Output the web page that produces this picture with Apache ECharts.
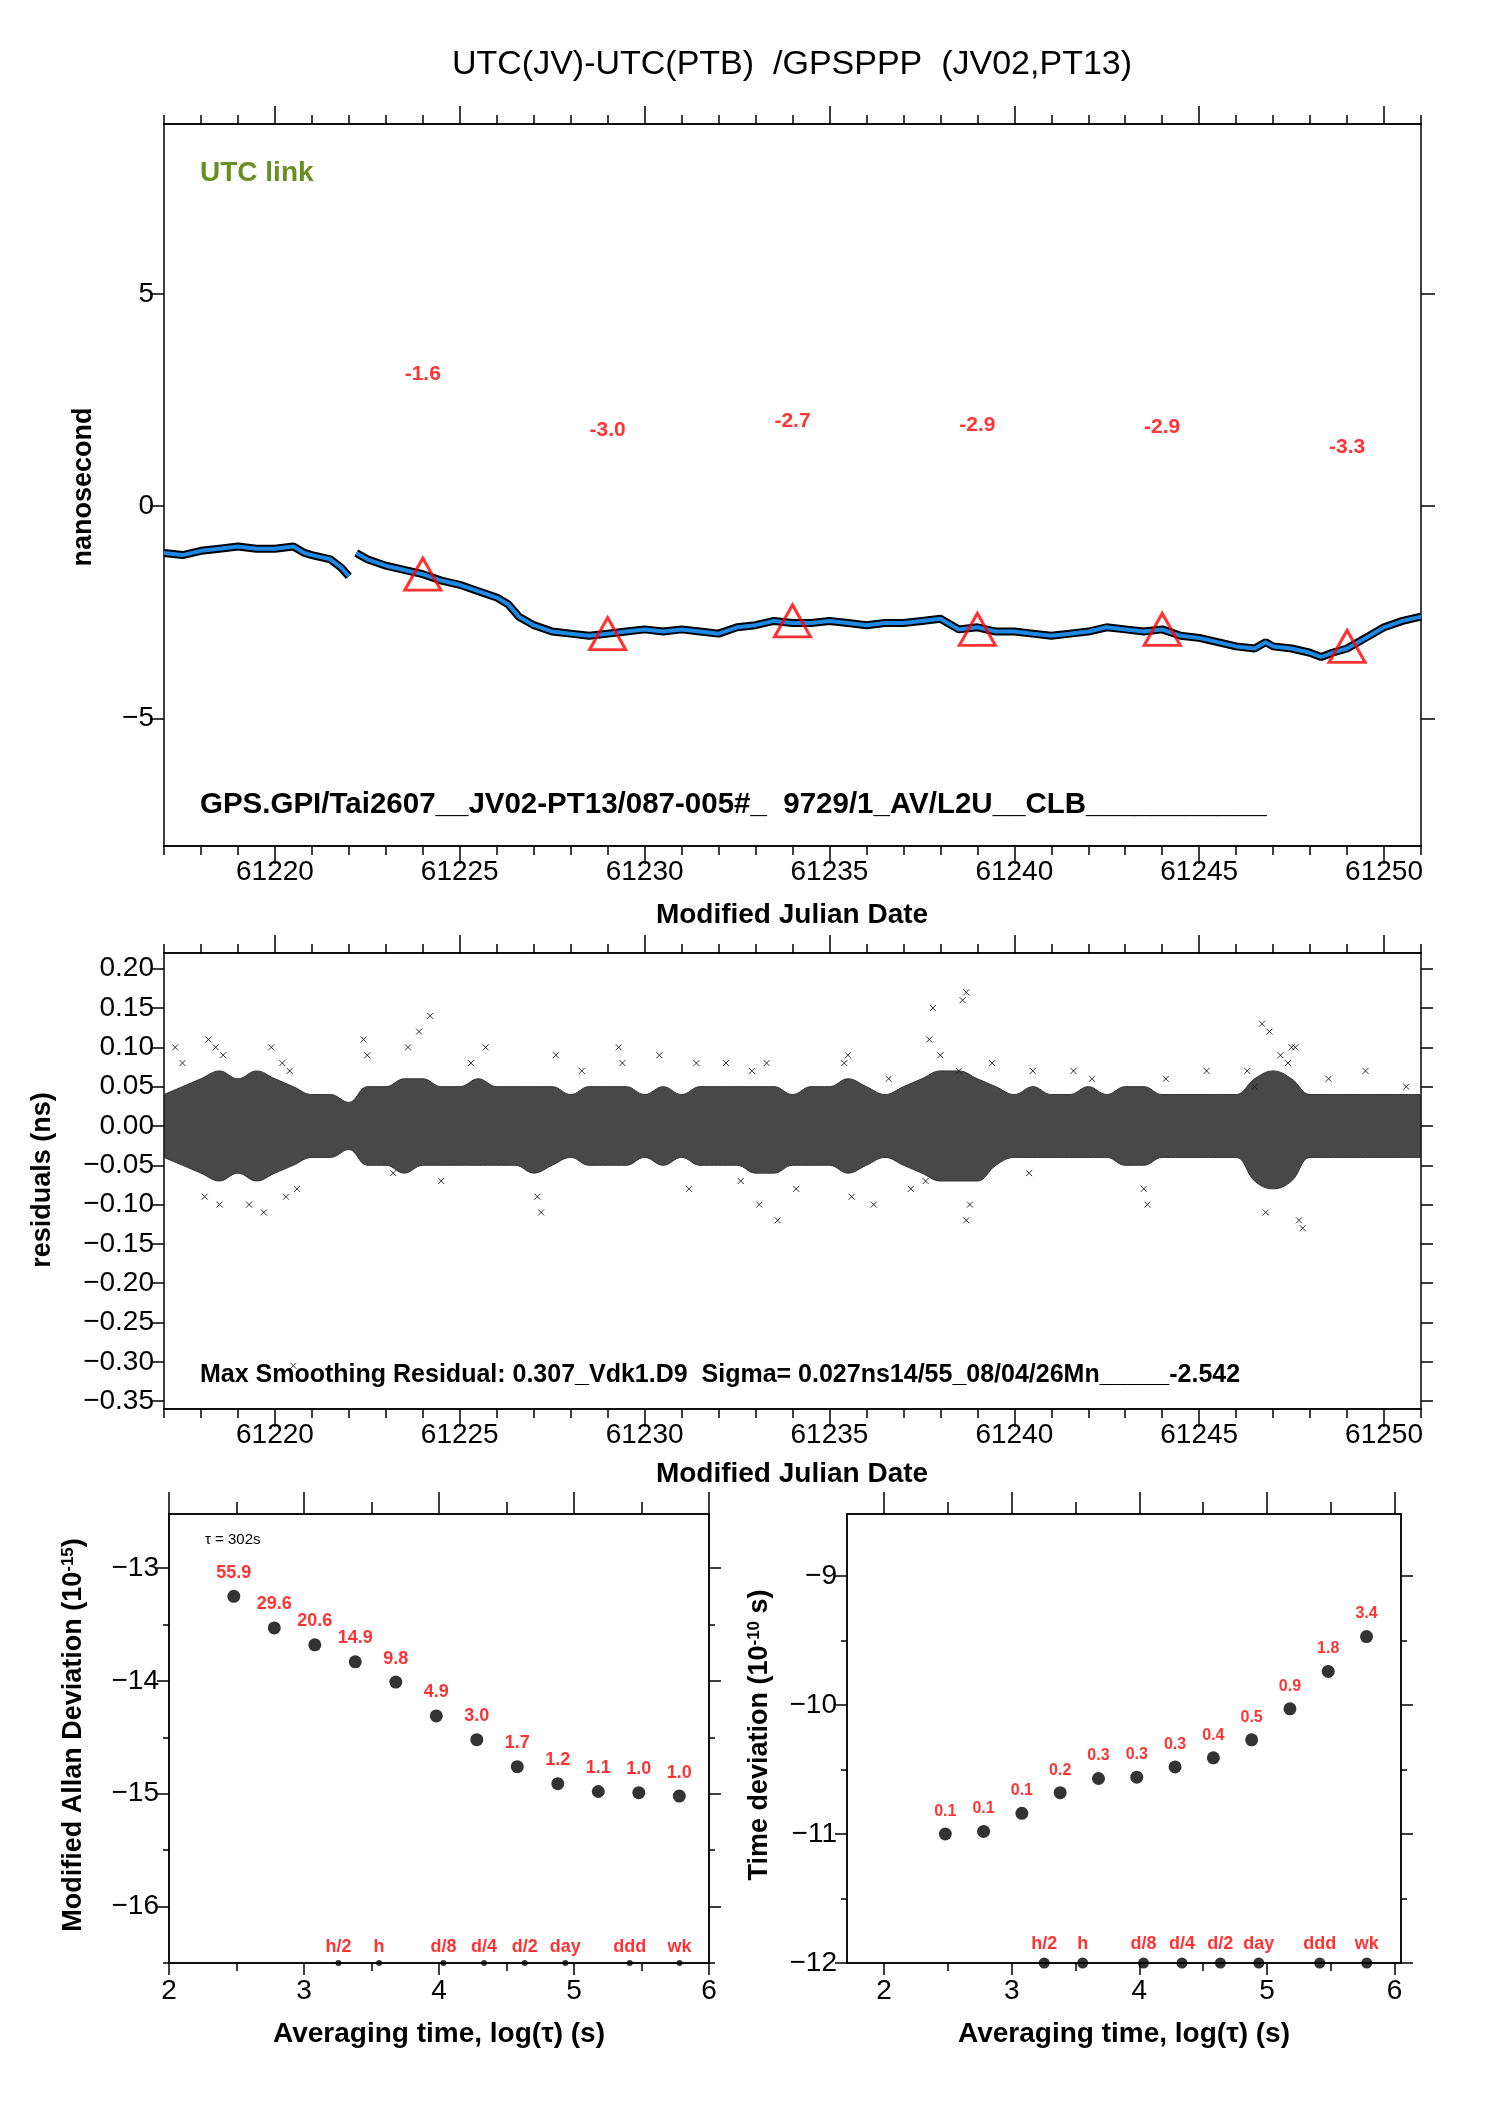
<!DOCTYPE html>
<html><head><meta charset="utf-8">
<script src="https://cdn.jsdelivr.net/npm/echarts@6/dist/echarts.min.js"></script>
<style>html,body{margin:0;padding:0;background:#fff}#c{width:1488px;height:2105px}</style>
</head><body><div id="c"></div>
<script>
// ---- top panel: UTC(JV)-UTC(PTB) ----
const linkMJD = [61217.0,61217.5,61218,61218.5,61219,61219.5,61220,61220.5,61220.8,61221,61221.5,61221.8,61222.0,61222.1,61222.2,61222.5,61223,61223.5,61224,61224.5,61225,61225.5,61226,61226.3,61226.6,61227,61227.5,61228,61228.5,61229,61229.5,61230,61230.5,61231,61231.5,61232,61232.5,61233,61233.5,61234,61234.5,61235,61235.5,61236,61236.5,61237,61237.5,61238,61238.5,61239,61239.5,61240,61240.5,61241,61241.5,61242,61242.5,61243,61243.5,61244,61244.5,61245,61245.5,61246,61246.5,61246.8,61247,61247.5,61248,61248.3,61248.6,61249,61249.5,61250,61250.5,61251];
const linkNs = [-1.1,-1.15,-1.05,-1.0,-0.95,-1.0,-1.0,-0.95,-1.1,-1.15,-1.25,-1.45,-1.65,null,-1.1,-1.25,-1.4,-1.5,-1.6,-1.75,-1.85,-2.0,-2.15,-2.3,-2.6,-2.8,-2.95,-3.0,-3.05,-3.0,-2.95,-2.9,-2.95,-2.9,-2.95,-3.0,-2.85,-2.8,-2.7,-2.75,-2.75,-2.7,-2.75,-2.8,-2.75,-2.75,-2.7,-2.65,-2.9,-2.85,-2.95,-2.95,-3.0,-3.05,-3.0,-2.95,-2.85,-2.9,-2.95,-2.9,-3.05,-3.1,-3.2,-3.3,-3.35,-3.2,-3.3,-3.35,-3.45,-3.55,-3.45,-3.35,-3.1,-2.85,-2.7,-2.6];
const triMJD = [61224,61229,61234,61239,61244,61249];
const triNs = [-1.6,-3.0,-2.7,-2.9,-2.9,-3.3];
const triLabelY = [3.1,1.8,2.0,1.9,1.85,1.4];
const triLabels = ['-1.6','-3.0','-2.7','-2.9','-2.9','-3.3'];
const mjdTicks = [61220,61225,61230,61235,61240,61245,61250];
const nsTicks = [5,0,-5];
// ---- residuals ----
const resMJD = [61217,61217.5,61218,61218.5,61219,61219.5,61220,61220.5,61221,61221.5,61222,61222.5,61223,61223.5,61224,61224.5,61225,61225.5,61226,61226.5,61227,61227.5,61228,61228.5,61229,61229.5,61230,61230.5,61231,61231.5,61232,61232.5,61233,61233.5,61234,61234.5,61235,61235.5,61236,61236.5,61237,61237.5,61238,61238.5,61239,61239.5,61240,61240.5,61241,61241.5,61242,61242.5,61243,61243.5,61244,61244.5,61245,61245.5,61246,61246.5,61247,61247.5,61248,61248.5,61249,61249.5,61250,61250.5,61251];
const resHi = [0.04,0.05,0.06,0.07,0.06,0.07,0.06,0.05,0.04,0.04,0.03,0.05,0.05,0.06,0.06,0.05,0.05,0.06,0.05,0.05,0.05,0.05,0.04,0.05,0.05,0.05,0.04,0.05,0.04,0.05,0.05,0.05,0.05,0.05,0.04,0.05,0.05,0.06,0.05,0.04,0.05,0.06,0.07,0.07,0.06,0.05,0.04,0.05,0.04,0.04,0.05,0.04,0.05,0.05,0.04,0.04,0.04,0.04,0.04,0.06,0.07,0.06,0.04,0.04,0.04,0.04,0.04,0.04,0.04];
const resLo = [-0.04,-0.05,-0.06,-0.07,-0.06,-0.07,-0.06,-0.05,-0.04,-0.04,-0.03,-0.05,-0.05,-0.06,-0.05,-0.05,-0.05,-0.05,-0.05,-0.05,-0.06,-0.05,-0.04,-0.05,-0.05,-0.05,-0.04,-0.05,-0.04,-0.05,-0.05,-0.05,-0.06,-0.06,-0.05,-0.05,-0.05,-0.06,-0.05,-0.04,-0.05,-0.06,-0.07,-0.07,-0.07,-0.05,-0.04,-0.04,-0.04,-0.04,-0.04,-0.04,-0.05,-0.05,-0.04,-0.04,-0.04,-0.04,-0.04,-0.07,-0.08,-0.07,-0.04,-0.04,-0.04,-0.04,-0.04,-0.04,-0.04];
const outlierMJD = [61217.3,61217.5,61218.2,61218.4,61218.6,61219.9,61220.2,61220.4,61218.1,61218.5,61219.3,61220.3,61220.6,61219.7,61222.4,61222.5,61223.6,61224.2,61223.9,61225.7,61225.3,61224.5,61223.2,61227.2,61227.1,61227.6,61228.3,61229.3,61229.4,61230.4,61231.2,61232.2,61232.6,61231.4,61233.1,61232.9,61233.3,61233.6,61234.1,61235.4,61235.6,61236.2,61236.6,61235.5,61237.2,61237.7,61237.8,61238.0,61237.6,61238.6,61238.7,61238.7,61238.8,61238.5,61239.4,61240.5,61240.4,61241.6,61242.1,61243.6,61243.5,61244.1,61245.2,61246.3,61246.5,61246.8,61246.7,61246.9,61247.2,61247.4,61247.6,61247.7,61247.8,61247.5,61248.5,61249.5,61250.6,61220.5];
const outlierRes = [0.10,0.08,0.11,0.10,0.09,0.10,0.08,0.07,-0.09,-0.10,-0.10,-0.09,-0.08,-0.11,0.11,0.09,0.10,0.14,0.12,0.10,0.08,-0.07,-0.06,-0.11,-0.09,0.09,0.07,0.10,0.08,0.09,-0.08,0.08,-0.07,0.08,-0.10,0.07,0.08,-0.12,-0.08,0.08,-0.09,-0.10,0.06,0.09,-0.08,0.11,0.15,0.09,-0.07,0.16,0.17,-0.12,-0.10,0.07,0.08,0.07,-0.06,0.07,0.06,-0.10,-0.08,0.06,0.07,0.07,0.05,-0.11,0.13,0.12,0.09,0.08,0.10,-0.12,-0.13,0.10,0.06,0.07,0.05,-0.305];
const resTicks = [0.20,0.15,0.10,0.05,0.00,-0.05,-0.10,-0.15,-0.20,-0.25,-0.30,-0.35];
// ---- stability ----
const logTau = [2.48,2.78,3.08,3.38,3.68,3.98,4.28,4.58,4.88,5.18,5.48,5.78];
const logMdev = [-13.25,-13.53,-13.68,-13.83,-14.01,-14.31,-14.52,-14.76,-14.91,-14.98,-14.99,-15.02];
const mdevLabels = ['55.9','29.6','20.6','14.9','9.8','4.9','3.0','1.7','1.2','1.1','1.0','1.0'];
const logTdev = [-11.0,-10.98,-10.84,-10.68,-10.57,-10.56,-10.48,-10.41,-10.27,-10.03,-9.74,-9.47];
const tdevLabels = ['0.1','0.1','0.1','0.2','0.3','0.3','0.3','0.4','0.5','0.9','1.8','3.4'];
const markLog = [3.255,3.556,4.033,4.334,4.635,4.936,5.413,5.782];
const markNames = ['h/2','h','d/8','d/4','d/2','day','ddd','wk'];
const logTicks = [2,3,4,5,6];
const mdevTicks = [-13,-14,-15,-16];
const tdevTicks = [-9,-10,-11,-12];

const FN = '"Liberation Sans Narrow","Liberation Sans",Arial,sans-serif';
const FB = '"Liberation Sans","DejaVu Sans",sans-serif';
const minus = v => String(v).replace('-', '\u2212');
const grids = [
  {left:164, width:1257, top:124, height:722},
  {left:164, width:1257, top:953, height:456},
  {left:169, width:540, top:1514, height:449},
  {left:847, width:554, top:1514, height:449}
];
const xAxes = [], yAxes = [];
function axis(list, dim, g, pos, min, max, ticks, opt) {
  list.push(Object.assign({
    type:'value', gridIndex:g, position:pos, min:min, max:max, scale:true,
    axisLine:{show:true, onZero:false, lineStyle:{color:'#000', width:1.5}},
    splitLine:{show:false},
    axisTick:{show:true, inside:false, length:opt.len||12, customValues:ticks, lineStyle:{color:'#000', width:1.5}},
    axisLabel:{show:!!opt.labels, customValues:ticks, formatter: opt.fmt || (v=>minus(v)),
      fontFamily:FN, fontSize:28, color:'#000', margin:opt.margin||10}
  }, opt.extra||{}));
  return list.length-1;
}
const range = (a,b,s)=>{const r=[];for(let v=a;v<=b+1e-9;v+=s)r.push(+v.toFixed(4));return r;};
// grid 0
const x0 = axis(xAxes,'x',0,'bottom',61217,61251,mjdTicks,{labels:true,len:18,margin:12});
axis(xAxes,'x',0,'bottom',61217,61251,range(61217,61251,1),{len:9});
axis(xAxes,'x',0,'top',61217,61251,mjdTicks,{len:18});
axis(xAxes,'x',0,'top',61217,61251,range(61217,61251,1),{len:9});
const y0 = axis(yAxes,'y',0,'left',-8,9,nsTicks,{labels:true,len:14});
axis(yAxes,'y',0,'right',-8,9,nsTicks,{len:14});
// grid 1
const x1 = axis(xAxes,'x',1,'bottom',61217,61251,mjdTicks,{labels:true,len:18,margin:12});
axis(xAxes,'x',1,'bottom',61217,61251,range(61217,61251,1),{len:9});
axis(xAxes,'x',1,'top',61217,61251,mjdTicks,{len:18});
axis(xAxes,'x',1,'top',61217,61251,range(61217,61251,1),{len:9});
const y1 = axis(yAxes,'y',1,'left',-0.36,0.22,resTicks,{labels:true,len:12,fmt:v=>minus(v.toFixed(2))});
axis(yAxes,'y',1,'right',-0.36,0.22,resTicks,{len:12});
// grid 2
const x2 = axis(xAxes,'x',2,'bottom',2,6,logTicks,{labels:true,len:12,margin:14});
axis(xAxes,'x',2,'bottom',2,6,range(2,6,0.5),{len:8});
axis(xAxes,'x',2,'top',2,6,logTicks,{len:22});
axis(xAxes,'x',2,'top',2,6,range(2,6,0.5),{len:12});
const y2 = axis(yAxes,'y',2,'left',-16.5,-12.52,mdevTicks,{labels:true,len:12});
axis(yAxes,'y',2,'left',-16.5,-12.52,range(-16.5,-13,0.5),{len:6});
axis(yAxes,'y',2,'right',-16.5,-12.52,mdevTicks,{len:12});
axis(yAxes,'y',2,'right',-16.5,-12.52,range(-16.5,-13,0.5),{len:6});
// grid 3
const x3 = axis(xAxes,'x',3,'bottom',1.71,6.05,logTicks,{labels:true,len:12,margin:14});
axis(xAxes,'x',3,'bottom',1.71,6.05,range(2,6,0.5),{len:8});
axis(xAxes,'x',3,'top',1.71,6.05,logTicks,{len:22});
axis(xAxes,'x',3,'top',1.71,6.05,range(2,6,0.5),{len:12});
const y3 = axis(yAxes,'y',3,'left',-12,-8.52,tdevTicks,{labels:true,len:12});
axis(yAxes,'y',3,'left',-12,-8.52,range(-12,-9,0.5),{len:6});
axis(yAxes,'y',3,'right',-12,-8.52,tdevTicks,{len:12});
axis(yAxes,'y',3,'right',-12,-8.52,range(-12,-9,0.5),{len:6});

const zip = (a,b)=>a.map((v,i)=>[v,b[i]]);
const redLbl = (arr,size,dist)=>({show:true, position:'top', distance:dist, color:'#f00', fontWeight:'bold', fontFamily:FN, fontSize:size, formatter:p=>arr[p.dataIndex]});

const series = [
  {type:'line', xAxisIndex:x0, yAxisIndex:y0, data:zip(linkMJD,linkNs), showSymbol:false, connectNulls:false, lineStyle:{color:'#000', width:8}, z:2, silent:true},
  {type:'line', xAxisIndex:x0, yAxisIndex:y0, data:zip(linkMJD,linkNs), showSymbol:false, connectNulls:false, lineStyle:{color:'#1e88e5', width:4}, z:3, silent:true},
  {type:'scatter', xAxisIndex:x0, yAxisIndex:y0, data:zip(triMJD,triNs), symbol:'triangle', symbolSize:[36,32], itemStyle:{color:'none', borderColor:'#f00', borderWidth:3}, z:4},
  {type:'scatter', xAxisIndex:x0, yAxisIndex:y0, data:zip(triMJD,triLabelY), symbolSize:0, label:{show:true, position:'inside', color:'#f00', fontWeight:'bold', fontFamily:FB, fontSize:21, formatter:p=>triLabels[p.dataIndex]}},
  {type:'line', xAxisIndex:x1, yAxisIndex:y1, data:zip(resMJD,resHi), smooth:0.4, showSymbol:false, lineStyle:{color:'#333', width:1}, areaStyle:{color:'#1a1a1a', opacity:0.8, origin:0}, silent:true},
  {type:'line', xAxisIndex:x1, yAxisIndex:y1, data:zip(resMJD,resLo), smooth:0.4, showSymbol:false, lineStyle:{color:'#333', width:1}, areaStyle:{color:'#1a1a1a', opacity:0.8, origin:0}, silent:true},
  {type:'scatter', xAxisIndex:x1, yAxisIndex:y1, data:zip(outlierMJD,outlierRes), symbol:'path://M0,0L10,10M10,0L0,10', symbolSize:6, itemStyle:{color:'none', borderColor:'#000', borderWidth:1}},
  {type:'scatter', xAxisIndex:x2, yAxisIndex:y2, data:zip(logTau,logMdev), symbolSize:13, itemStyle:{color:'#000'}, label:redLbl(mdevLabels,18,8)},
  {type:'scatter', xAxisIndex:x2, yAxisIndex:y2, data:markLog.map(v=>[v,-16.5]), symbolSize:6, itemStyle:{color:'#000'}, label:redLbl(markNames,18,4)},
  {type:'scatter', xAxisIndex:x3, yAxisIndex:y3, data:zip(logTau,logTdev), symbolSize:13, itemStyle:{color:'#000'}, label:redLbl(tdevLabels,16,8)},
  {type:'scatter', xAxisIndex:x3, yAxisIndex:y3, data:markLog.map(v=>[v,-12]), symbolSize:11, itemStyle:{color:'#000'}, label:redLbl(markNames,18,4)}
];

const T = (x,y,text,style,extra)=>Object.assign({type:'text', x:x, y:y, style:Object.assign({text:text, fill:'#000', fontFamily:FN, fontSize:28}, style)}, extra||{});
const graphic = [
  T(792,65,'UTC(JV)-UTC(PTB)  /GPSPPP  (JV02,PT13)',{fontSize:34,align:'center',verticalAlign:'middle'}),
  T(200,173,'UTC link',{fill:'#6b8e23',fontWeight:'bold',fontFamily:FB,fontSize:28,verticalAlign:'middle'}),
  T(200,805,'GPS.GPI/Tai2607__JV02-PT13/087-005#_  9729/1_AV/L2U__CLB___________',{fontWeight:'bold',fontFamily:FB,fontSize:29.5,verticalAlign:'middle'}),
  T(792,915,'Modified Julian Date',{fontWeight:'bold',fontFamily:FB,fontSize:28,align:'center',verticalAlign:'middle'}),
  T(84,487,'nanosecond',{fontWeight:'bold',fontFamily:FB,fontSize:27,align:'center',verticalAlign:'middle'},{rotation:Math.PI/2}),
  T(200,1375,'Max Smoothing Residual: 0.307_Vdk1.D9  Sigma= 0.027ns14/55_08/04/26Mn_____-2.542',{fontWeight:'bold',fontFamily:FB,fontSize:25,verticalAlign:'middle'}),
  T(792,1474,'Modified Julian Date',{fontWeight:'bold',fontFamily:FB,fontSize:28,align:'center',verticalAlign:'middle'}),
  T(43,1180,'residuals (ns)',{fontWeight:'bold',fontFamily:FB,fontSize:27,align:'center',verticalAlign:'middle'},{rotation:Math.PI/2}),
  T(205,1540,'\u03c4 = 302s',{fontSize:15,verticalAlign:'middle'}),
  T(439,2034,'Averaging time, log(\u03c4) (s)',{fontWeight:'bold',fontFamily:FB,fontSize:28,align:'center',verticalAlign:'middle'}),
  T(1124,2034,'Averaging time, log(\u03c4) (s)',{fontWeight:'bold',fontFamily:FB,fontSize:28,align:'center',verticalAlign:'middle'}),
  T(74,1735,'{a|Modified Allan Deviation (10}{s|-15}{a|)}',{align:'center',verticalAlign:'middle',rich:{a:{fontWeight:'bold',fontFamily:FB,fontSize:27},s:{fontWeight:'bold',fontFamily:FB,fontSize:17,verticalAlign:'top',padding:[0,0,12,0]}}},{rotation:Math.PI/2}),
  T(760,1735,'{a|Time deviation (10}{s|-10}{a| s)}',{align:'center',verticalAlign:'middle',rich:{a:{fontWeight:'bold',fontFamily:FB,fontSize:27},s:{fontWeight:'bold',fontFamily:FB,fontSize:17,verticalAlign:'top',padding:[0,0,12,0]}}},{rotation:Math.PI/2})
];

const chart = echarts.init(document.getElementById('c'), null, {renderer:'canvas'});
chart.setOption({animation:false, backgroundColor:'#fff', grid:grids, xAxis:xAxes, yAxis:yAxes, series:series, graphic:graphic});
</script></body></html>
